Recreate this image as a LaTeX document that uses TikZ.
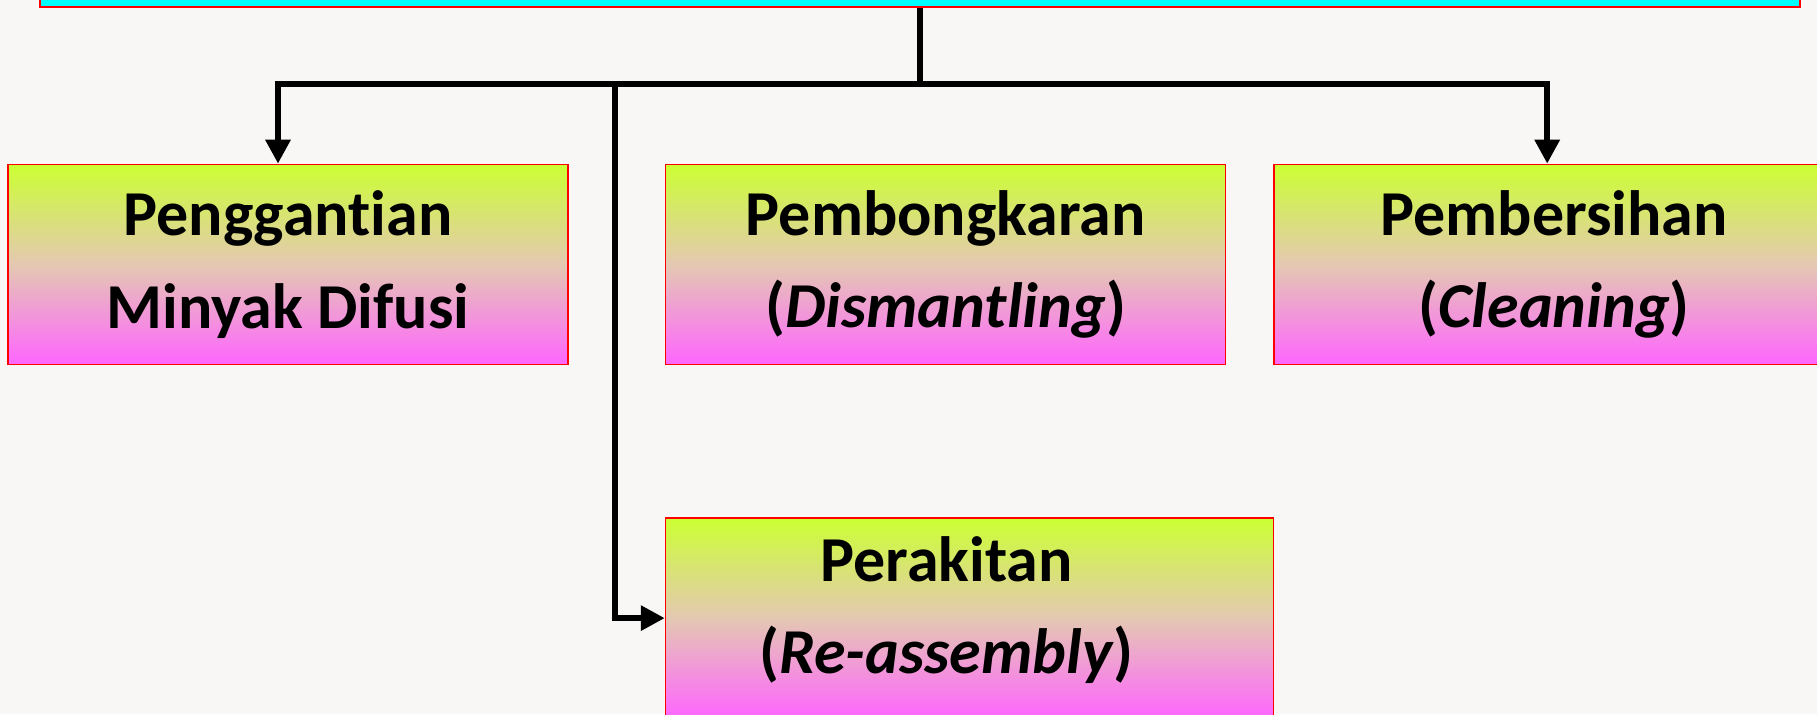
\documentclass[tikz,border=0pt]{standalone}
\usepackage{fontspec}
\setmainfont{Carlito}[Ligatures=NoCommon]
\usetikzlibrary{arrows.meta,positioning}

\definecolor{paper}{RGB}{248,247,245}
\definecolor{headcyan}{RGB}{0,255,255}
\definecolor{boxlime}{RGB}{204,255,51}
\definecolor{boxtan}{RGB}{228,200,178}
\definecolor{boxpink}{RGB}{255,102,255}

\begin{document}
\begin{tikzpicture}[
  x=0.5pt, y=-0.5pt,
  node distance=48pt and 48pt,
  boxtext/.style={font=\fontsize{32}{46.4}\selectfont\bfseries, align=center},
  box/.style={draw=red, line width=0.8pt, boxtext, minimum width=280pt,
              minimum height=100pt, top color=boxlime, bottom color=boxpink,
              middle color=boxtan},
  head/.style={draw=red, line width=1.2pt, fill=headcyan, minimum width=880pt,
               minimum height=40pt},
  link/.style={line width=3pt},
  arrow/.style={link, -{Triangle[length=12pt,width=12pt]}}
]
\useasboundingbox (0,0) rectangle (1817,714);
\fill[paper] (0,0) rectangle (1817,714);

% header box, only its lower edge is on the page
\node[head] (top) at (920,-33) {};

\node[box] (box1) at (288,264.5) {Penggantian\\Minyak Difusi};
\node[box, right=of box1] (box2) {Pembongkaran\\(\textit{Dismantling})};
\node[box, right=23.5pt of box2] (box3) {Pembersihan\\(\textit{Cleaning})};
\node[box, minimum width=304pt, below=76pt of box2.south west, anchor=north west,
      label={[boxtext, xshift=-11.5pt, yshift=4pt]center:Perakitan\\(\textit{Re-assembly})}] (box4) {};

\coordinate (split) at (920,84);
\coordinate (branch) at (615,84);

\draw[link] (top) -- (split);
\draw[arrow] (split) -| ([xshift=-5pt]box1.north);
\draw[arrow] (split) -| ([xshift=-3.5pt]box3.north);
\draw[arrow] (branch) |- (box4.west);
\end{tikzpicture}
\end{document}
